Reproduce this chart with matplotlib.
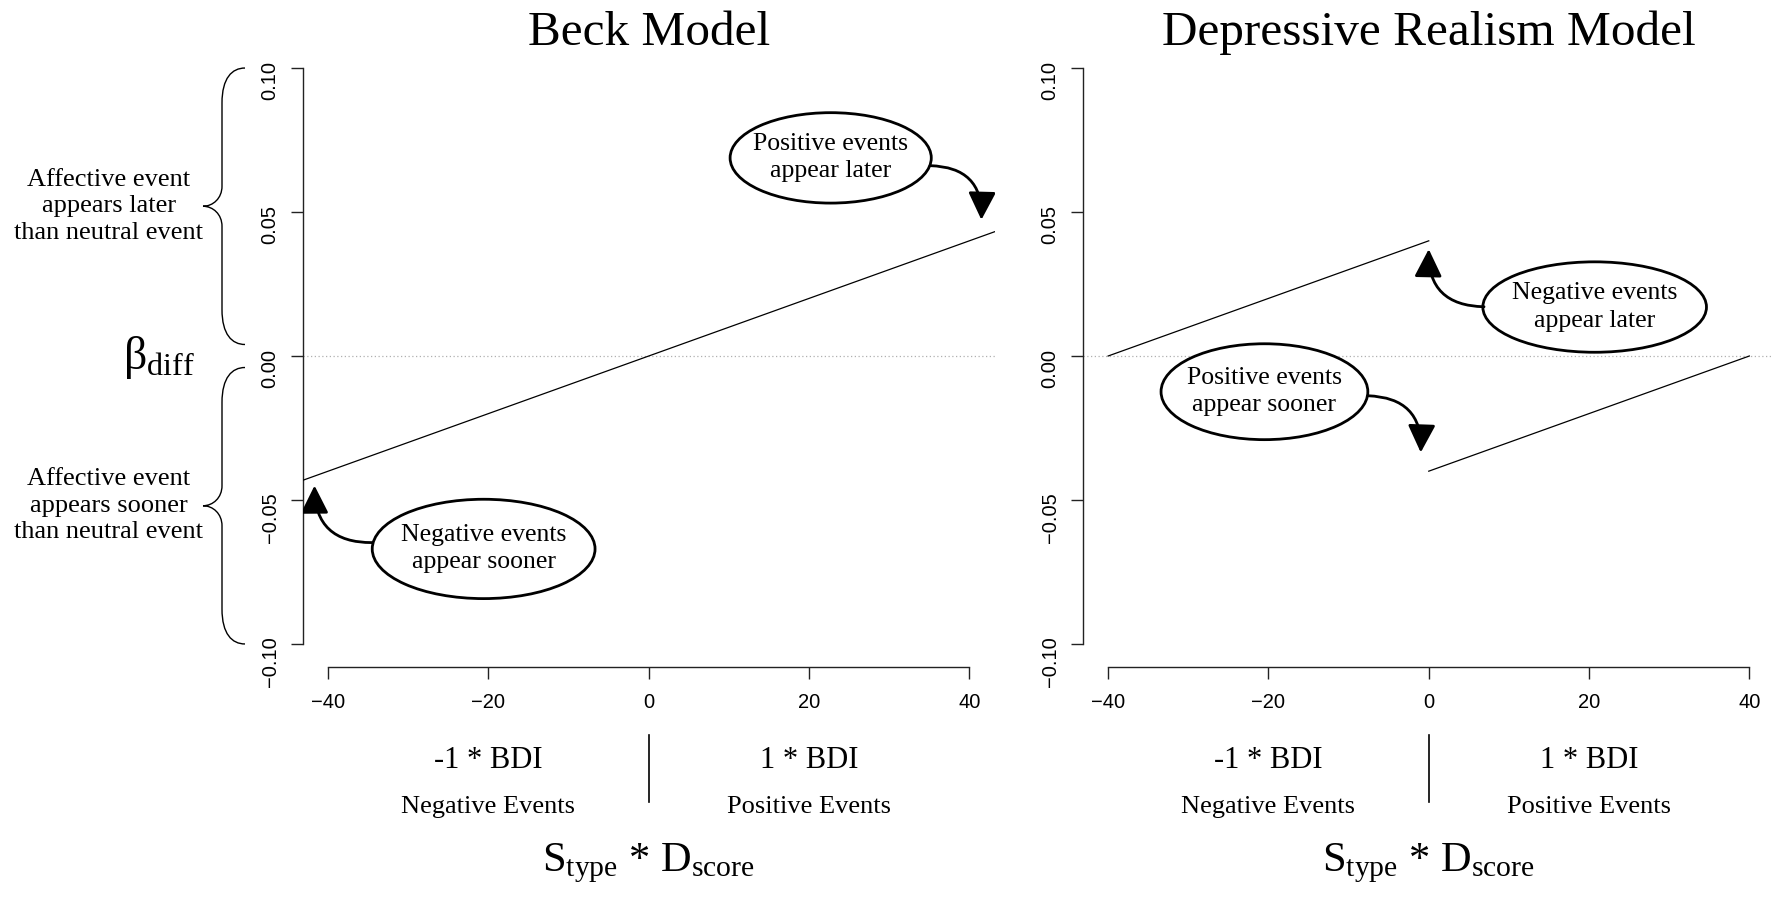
import matplotlib
matplotlib.use('Agg')
import matplotlib.pyplot as plt
from matplotlib.patches import Ellipse, FancyArrowPatch, PathPatch
from matplotlib.path import Path
import matplotlib.transforms as mtransforms

plt.rcParams['mathtext.fontset'] = 'custom'
plt.rcParams['mathtext.rm'] = 'Liberation Serif'
plt.rcParams['mathtext.it'] = 'Liberation Serif:italic'
plt.rcParams['mathtext.bf'] = 'Liberation Serif:bold'

SERIF = 'Liberation Serif'
SANS = 'Liberation Sans'

# ---------------- data ----------------
titles = ['Beck Model', 'Depressive Realism Model']
x_ticks = [-40, -20, 0, 20, 40]
x_tick_labels = ['\u221240', '\u221220', '0', '20', '40']
y_ticks = [-0.10, -0.05, 0.00, 0.05, 0.10]
y_tick_labels = ['\u22120.10', '\u22120.05', '0.00', '0.05', '0.10']

# Beck model: a single line through the origin
beck_intercept = 0.0
beck_slope = 0.001

# Depressive realism model: two segments
dr_neg_x = [-40, 0]
dr_neg_y = [0.00, 0.04]
dr_pos_x = [0, 40]
dr_pos_y = [-0.04, 0.00]

# bubbles: text, centre, width, height, arrow start, arrow tip
beck_bubbles = [
    ('Positive events\nappear later', (22.7, 0.0688), 25.1, 0.0314, (35.1, 0.0661), (41.5, 0.0473)),
    ('Negative events\nappear sooner', (-20.6, -0.0670), 27.8, 0.0345, (-34.5, -0.0648), (-41.7, -0.0450)),
]
dr_bubbles = [
    ('Negative events\nappear later', (20.7, 0.0170), 27.9, 0.0314, (6.9, 0.0171), (0.0, 0.0371)),
    ('Positive events\nappear sooner', (-20.5, -0.0124), 25.8, 0.0333, (-7.6, -0.0138), (-1.0, -0.0335)),
]

lower_labels = ['-1 * BDI', '1 * BDI']
lower_sublabels = ['Negative Events', 'Positive Events']
lower_label_x = [-20, 20]
brace_texts = ['Affective event\nappears later\nthan neutral event',
               'Affective event\nappears sooner\nthan neutral event']
brace_spans = [(0.10, 0.004), (-0.004, -0.10)]

# ---------------- figure ----------------
W, H = 1772, 901
fig = plt.figure(figsize=(W / 100, H / 100), dpi=100)
fig.patch.set_facecolor('white')

ax_w = 692.5 / W
ax_h = 622 / H
ax_b = (H - 667) / H
axL = fig.add_axes([302.5 / W, ax_b, ax_w, ax_h])
axR = fig.add_axes([1082.5 / W, ax_b, ax_w, ax_h])


def style_axes(ax, title):
    ax.set_xlim(-43.2, 43.2)
    ax.set_ylim(-0.108, 0.108)
    for s in ['top', 'right']:
        ax.spines[s].set_visible(False)
    ax.spines['left'].set_bounds(-0.10, 0.10)
    ax.spines['bottom'].set_bounds(-40, 40)
    for s in ['left', 'bottom']:
        ax.spines[s].set_linewidth(1.0)
        ax.spines[s].set_color('#222222')
    ax.set_xticks(x_ticks)
    ax.set_xticklabels(x_tick_labels, fontfamily=SANS, fontsize=14.5)
    ax.set_yticks(y_ticks)
    ax.set_yticklabels(y_tick_labels, fontfamily=SANS, fontsize=14.5)
    ax.tick_params(axis='both', direction='out', length=8.5, width=1.0, color='#222222')
    ax.tick_params(axis='x', pad=10.5)
    ax.tick_params(axis='y', pad=8, labelrotation=90)
    ax.axhline(0, color='#b0b0b0', lw=0.9, linestyle=(0, (1, 2)), zorder=1)
    ax.text(0.5, 1.0, title, transform=ax.transAxes, ha='center', va='baseline',
            fontfamily=SERIF, fontsize=35.5)

    bt = mtransforms.blended_transform_factory(ax.transData, ax.transAxes)
    for lx, lab, sub in zip(lower_label_x, lower_labels, lower_sublabels):
        ax.text(lx, -0.1624, lab, transform=bt, ha='center', va='baseline',
                fontfamily=SERIF, fontsize=22, clip_on=False)
        ax.text(lx, -0.2347, sub, transform=bt, ha='center', va='baseline',
                fontfamily=SERIF, fontsize=19, clip_on=False)
    ax.plot([0, 0], [-0.11, -0.217], transform=bt, color='black', lw=1.2, clip_on=False)
    ax.text(0, -0.329, r'$\mathrm{S_{type}}$ * $\mathrm{D_{score}}$', transform=bt,
            ha='center', va='baseline', fontfamily=SERIF, fontsize=30.5, clip_on=False)


def draw_bubbles(ax, bubbles):
    for text, c, w, h, a0, a1 in bubbles:
        e = Ellipse(c, w, h, facecolor='white', edgecolor='black', lw=2.0, zorder=4)
        ax.add_patch(e)
        ax.text(c[0], c[1], text, ha='center', va='center', fontfamily=SERIF,
                fontsize=18.5, linespacing=1.3, zorder=5)
        arr = FancyArrowPatch(a0, a1, connectionstyle='arc3,rad=-0.5',
                              arrowstyle='-|>,head_length=17,head_width=8.5',
                              mutation_scale=1, lw=2.0, color='black',
                              shrinkA=0, shrinkB=0, zorder=5)
        ax.add_patch(arr)


style_axes(axL, titles[0])
style_axes(axR, titles[1])

axL.axline((0, beck_intercept), slope=beck_slope, color='black', lw=0.9, zorder=3)
axR.plot(dr_neg_x, dr_neg_y, color='black', lw=0.9, zorder=3)
axR.plot(dr_pos_x, dr_pos_y, color='black', lw=0.9, zorder=3)

draw_bubbles(axL, beck_bubbles)
draw_bubbles(axR, dr_bubbles)

# braces and their texts on the left margin
ident = mtransforms.IdentityTransform()
bx_end, bx_mid, bx_pt = 245, 222, 203
for (ytop, ybot), txt in zip(brace_spans, brace_texts):
    yt = axL.transData.transform((0, ytop))[1]
    yb = axL.transData.transform((0, ybot))[1]
    ym = (yt + yb) / 2
    verts = [
        (bx_end, yt),
        (bx_end - 13, yt), (bx_mid, yt - 10), (bx_mid, yt - 35),
        (bx_mid, ym + 20),
        (bx_mid, ym + 8), (bx_mid - 9, ym), (bx_pt, ym),
        (bx_mid - 9, ym), (bx_mid, ym - 8), (bx_mid, ym - 20),
        (bx_mid, yb + 35),
        (bx_mid, yb + 10), (bx_end - 13, yb), (bx_end, yb),
    ]
    codes = [Path.MOVETO,
             Path.CURVE4, Path.CURVE4, Path.CURVE4,
             Path.LINETO,
             Path.CURVE4, Path.CURVE4, Path.CURVE4,
             Path.CURVE4, Path.CURVE4, Path.CURVE4,
             Path.LINETO,
             Path.CURVE4, Path.CURVE4, Path.CURVE4]
    pp = PathPatch(Path(verts, codes), facecolor='none', edgecolor='black', lw=1.0,
                   transform=ident)
    fig.add_artist(pp)
    fig.text(109 / W, (ym) / H, txt, ha='center', va='center', fontfamily=SERIF,
             fontsize=19, linespacing=1.25)

yb0 = axL.transData.transform((0, -0.0046))[1]
fig.text(159 / W, yb0 / H, r'$\mathrm{\beta_{diff}}$', ha='center', va='baseline',
         fontsize=33)

fig.savefig('out.png', dpi=100, facecolor='white')
